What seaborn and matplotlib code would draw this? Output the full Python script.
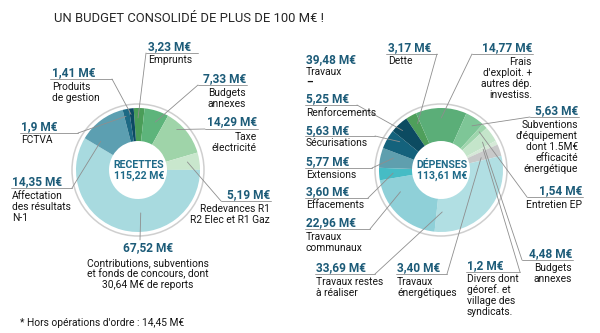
import matplotlib
matplotlib.use("Agg")
import matplotlib.pyplot as plt
from matplotlib.patches import Circle
import numpy as np
import seaborn as sns

sns.set_theme(style="white")
plt.rcParams['font.family'] = ['Roboto', 'DejaVu Sans']

# ---------------------------------------------------------------- data
title = "UN BUDGET CONSOLIDÉ DE PLUS DE 100 M€ !"
footnote = "* Hors opérations d'ordre : 14,45 M€"

rec_title = "RECETTES"
rec_total = "115,22"
rec_amounts = ["3,23", "7,33", "14,29", "5,19", "67,52", "14,35", "1,9", "1,41"]
rec_desc = [
    ["Emprunts"],
    ["Budgets", "annexes"],
    ["Taxe", "électricité"],
    ["Redevances R1", "R2 Elec et R1 Gaz"],
    ["Contributions, subventions", "et fonds de concours, dont", "30,64 M€ de reports"],
    ["Affectation", "des résultats", "N-1"],
    ["FCTVA"],
    ["Produits", "de gestion"],
]

dep_title = "DÉPENSES"
dep_total = "113,61"
dep_amounts = ["3,17", "14,77", "5,63", "1,54", "4,48", "1,2", "3,40",
               "33,69", "22,96", "3,60", "5,77", "5,63", "5,25"]
dep_desc = [
    ["Dette"],
    ["Frais", "d'exploit. +", "autres dép.", "investiss."],
    ["Subventions", "d'équipement", "dont 1.5M€", "efficacité", "énergétique"],
    ["Entretien EP"],
    ["Budgets", "annexes"],
    ["Divers dont", "géoref. et", "village des", "syndicats."],
    ["Travaux", "énergétiques"],
    ["Travaux restes", "à réaliser"],
    ["Travaux", "communaux"],
    ["Effacements"],
    ["Extensions"],
    ["Sécurisations"],
    ["Renforcements"],
]
trav_amount = "39,48"
trav_desc = ["Travaux", "–"]

rec_values = [float(a.replace(",", ".")) for a in rec_amounts]
dep_values = [float(a.replace(",", ".")) for a in dep_amounts]

# ---------------------------------------------------------------- styles
rec_colors = ["#4a9d58", "#5db47b", "#9fd4a9", "#c9e7cd",
              "#a8dadf", "#5c9fb1", "#1d6a84", "#0c4a63"]
dep_colors = ["#4f9f5b", "#5bae78", "#7ec697", "#9fd5ad", "#c4e5ca",
              "#d5e9d7", "#c8c9c9", "#b1dfe3", "#8fd0d8", "#46bcc5",
              "#5f9fae", "#14627c", "#0c4b61"]
VAL_COLOR = "#1c5b78"
TXT_COLOR = "#151515"
LINE_COLOR = "#8e8e8e"
VAL_FS = 8.6
TXT_FS = 7.4
STEP = 11

R_OUT, R_HOLE, R_RING = 62, 29, 66

# chart geometry: centre, start angle (degrees clockwise from 12 o'clock)
REC = dict(cx=138, cy=170, phi0=-4)
DEP = dict(cx=441, cy=170, phi0=-34)

# label layout: text anchor x, alignment, value baseline, first text baseline,
# underline (x0, x1, y), leader start, wedge position (fraction, radius)
rec_layout = [
    dict(x=148, ha="left", vb=50, tb=63, ul=(146, 198, 53), ls=(146, 53), wp=(0.4, 52)),
    dict(x=246, ha="right", vb=82, tb=96, ul=(198, 247, 85), ls=(198, 85), wp=(0.6, 51)),
    dict(x=257, ha="right", vb=125, tb=140, ul=(205, 258, 129), ls=(205, 129), wp=(0.33, 56)),
    dict(x=270, ha="right", vb=198, tb=212, ul=(221, 271, 201), ls=(221, 201), wp=(0.44, 50)),
    dict(x=148, ha="center", vb=251, tb=266, ul=None, ls=(140, 240), wp=(0.41, 43)),
    dict(x=12, ha="left", vb=185, tb=199, ul=(11, 72, 188), ls=(72, 188), wp=(0.15, 47)),
    dict(x=21, ha="left", vb=130, tb=143, ul=(20, 78, 133), ls=(78, 133), wp=(0.3, 55)),
    dict(x=52, ha="left", vb=76, tb=90, ul=(50, 112, 79), ls=(112, 79), wp=(0.3, 56)),
]
dep_layout = [
    dict(x=388, ha="left", vb=51, tb=64, ul=(386, 437, 54), ls=(437, 54), wp=(0.7, 52)),
    dict(x=532, ha="right", vb=51, tb=65, ul=(472, 533, 54), ls=(472, 54), wp=(0.5, 52)),
    dict(x=578, ha="right", vb=114, tb=128, ul=(530, 579, 117), ls=(530, 117), wp=(0.6, 54)),
    dict(x=582, ha="right", vb=194, tb=208, ul=(527, 583, 197), ls=(527, 197), wp=(0.5, 54)),
    dict(x=572, ha="right", vb=257, tb=271, ul=(522, 573, 260), ls=(522, 260), wp=(0.6, 50)),
    dict(x=467, ha="left", vb=269, tb=282, ul=(466, 520, 272), ls=(520, 272), wp=(0.5, 47)),
    dict(x=397, ha="left", vb=271, tb=285, ul=(396, 447, 274), ls=(447, 274), wp=(0.65, 42)),
    dict(x=316, ha="left", vb=271, tb=285, ul=(315, 375, 274), ls=(375, 274), wp=(0.93, 42)),
    dict(x=306, ha="left", vb=226, tb=240, ul=(305, 370, 229), ls=(370, 229), wp=(0.75, 46)),
    dict(x=306, ha="left", vb=195, tb=208, ul=(305, 368, 198), ls=(368, 198), wp=(0.5, 48)),
    dict(x=306, ha="left", vb=165, tb=178, ul=(305, 372, 168), ls=(372, 168), wp=(0.64, 49)),
    dict(x=306, ha="left", vb=134, tb=146, ul=(305, 375, 136), ls=(375, 136), wp=(0.75, 50)),
    dict(x=306, ha="left", vb=102, tb=116, ul=(305, 357, 105), ls=(357, 105), wp=(0.4, 55)),
]


def wedge_point(geo, values, idx, frac, r):
    total = sum(values)
    start = geo["phi0"] + 360.0 * sum(values[:idx]) / total
    span = 360.0 * values[idx] / total
    phi = np.deg2rad(start + frac * span)
    return geo["cx"] + r * np.sin(phi), geo["cy"] - r * np.cos(phi)


fig = plt.figure(figsize=(6.0, 3.33), dpi=100)
ax = fig.add_axes([0, 0, 1, 1])


def donut(geo, values, colors, head, total, amounts, descs, layout):
    cx, cy = geo["cx"], geo["cy"]
    ax.add_patch(Circle((cx, cy), R_RING, facecolor="white",
                        edgecolor="#cfcfcf", linewidth=1.1, zorder=1))
    # y axis runs downward, so counterclockwise in data is clockwise on screen
    wedges, _ = ax.pie(values, colors=colors, startangle=-(90 - geo["phi0"]),
                       counterclock=True, center=(cx, cy), radius=R_OUT,
                       wedgeprops=dict(width=R_OUT - R_HOLE, linewidth=0),
                       frame=True)
    for w in wedges:
        w.set_zorder(2)
    ax.text(cx + 1, cy - 2, head, ha="center", va="baseline", fontsize=7.6,
            fontweight="bold", color="#1f6a88", zorder=5)
    ax.text(cx + 1, cy + 9, f"{total} M€", ha="center", va="baseline",
            fontsize=7.6, fontweight="bold", color="#1f6a88", zorder=5)
    for i, lay in enumerate(layout):
        ax.text(lay["x"], lay["vb"], f"{amounts[i]} M€", ha=lay["ha"],
                va="baseline", fontsize=VAL_FS, fontweight="bold",
                color=VAL_COLOR, zorder=5)
        for k, line in enumerate(descs[i]):
            ax.text(lay["x"], lay["tb"] + k * STEP, line, ha=lay["ha"],
                    va="baseline", fontsize=TXT_FS, color=TXT_COLOR, zorder=5)
        if lay["ul"] is not None:
            x0, x1, y = lay["ul"]
            ax.plot([x0, x1], [y, y], color=LINE_COLOR, lw=0.6, zorder=4)
        px, py = wedge_point(geo, values, i, *lay["wp"])
        sx, sy = lay["ls"]
        ax.plot([sx, px], [sy, py], color=LINE_COLOR, lw=0.6, zorder=4)


donut(REC, rec_values, rec_colors, rec_title, rec_total,
      rec_amounts, rec_desc, rec_layout)
donut(DEP, dep_values, dep_colors, dep_title, dep_total,
      dep_amounts, dep_desc, dep_layout)

# header of the works group
ax.text(306, 63, f"{trav_amount} M€", ha="left", va="baseline",
        fontsize=VAL_FS, fontweight="bold", color=VAL_COLOR)
ax.text(306, 75, trav_desc[0], ha="left", va="baseline",
        fontsize=TXT_FS, color=TXT_COLOR)
ax.text(306, 85, trav_desc[1], ha="left", va="baseline",
        fontsize=TXT_FS, color=TXT_COLOR, fontweight="bold")

ax.text(54, 22, title, ha="left", va="baseline", fontsize=9.4,
        fontweight="normal", color="#262626")
ax.text(20, 326, footnote, ha="left", va="baseline", fontsize=7.4,
        color=TXT_COLOR)

ax.set_xlim(0, 600)
ax.set_ylim(333, 0)
ax.set_aspect("equal", adjustable="box")
ax.axis("off")

fig.savefig("out.png", dpi=100, facecolor="white")
